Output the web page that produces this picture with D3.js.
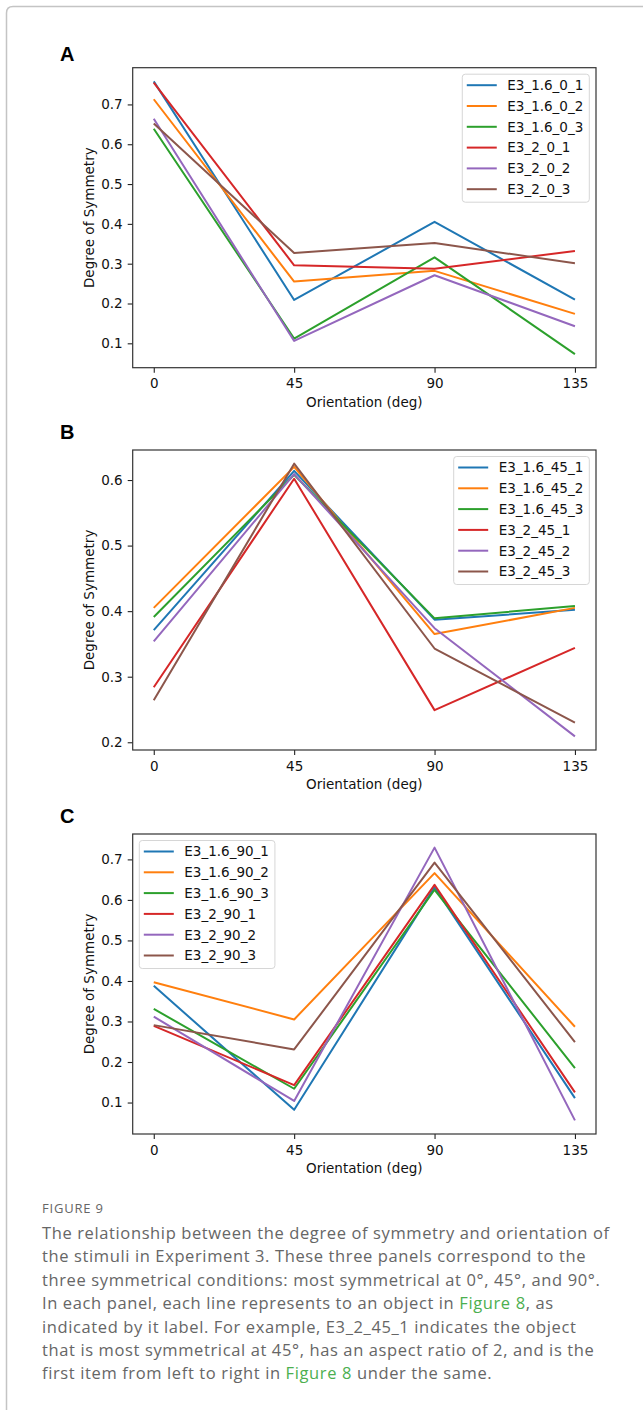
<!DOCTYPE html>
<meta charset="utf-8">
<style>
  body { margin: 0; background: #fff; }
  .tick text, .lab { font-family: "DejaVu Sans", sans-serif; font-size: 13.5px; fill: #111; }
  .cap { font-family: "Open Sans", Lato, sans-serif; fill: #666; }
</style>
<script src="https://d3js.org/d3.v7.min.js"></script>
<body>
<div id="chart"></div>
<script>

var orientations = [0, 45, 90, 135];
var colors = ["#1f77b4", "#ff7f0e", "#2ca02c", "#d62728", "#9467bd", "#8c564b"];

// panel A, most symmetrical at 0
var namesA = ["E3_1.6_0_1", "E3_1.6_0_2", "E3_1.6_0_3", "E3_2_0_1", "E3_2_0_2", "E3_2_0_3"];
var valuesA = [
  [0.758, 0.209, 0.405, 0.210],
  [0.713, 0.255, 0.282, 0.174],
  [0.639, 0.112, 0.316, 0.073],
  [0.755, 0.296, 0.287, 0.332],
  [0.664, 0.106, 0.271, 0.143],
  [0.652, 0.327, 0.352, 0.301]
];
var yTicksA = [0.1, 0.2, 0.3, 0.4, 0.5, 0.6, 0.7];

// panel B, most symmetrical at 45
var namesB = ["E3_1.6_45_1", "E3_1.6_45_2", "E3_1.6_45_3", "E3_2_45_1", "E3_2_45_2", "E3_2_45_3"];
var valuesB = [
  [0.371, 0.614, 0.387, 0.402],
  [0.405, 0.620, 0.365, 0.405],
  [0.391, 0.608, 0.389, 0.408],
  [0.284, 0.602, 0.249, 0.344],
  [0.354, 0.609, 0.374, 0.209],
  [0.264, 0.625, 0.343, 0.230]
];
var yTicksB = [0.2, 0.3, 0.4, 0.5, 0.6];

// panel C, most symmetrical at 90
var namesC = ["E3_1.6_90_1", "E3_1.6_90_2", "E3_1.6_90_3", "E3_2_90_1", "E3_2_90_2", "E3_2_90_3"];
var valuesC = [
  [0.388, 0.082, 0.631, 0.111],
  [0.397, 0.305, 0.666, 0.287],
  [0.331, 0.134, 0.625, 0.185],
  [0.289, 0.143, 0.637, 0.125],
  [0.312, 0.104, 0.729, 0.056],
  [0.291, 0.231, 0.692, 0.249]
];
var yTicksC = [0.1, 0.2, 0.3, 0.4, 0.5, 0.6, 0.7];

var captionLines = [
  ["The relationship between the degree of symmetry and orientation of"],
  ["the stimuli in Experiment 3. These three panels correspond to the"],
  ["three symmetrical conditions: most symmetrical at 0°, 45°, and 90°."],
  ["In each panel, each line represents to an object in ", "Figure 8", ", as"],
  ["indicated by it label. For example, E3_2_45_1 indicates the object"],
  ["that is most symmetrical at 45°, has an aspect ratio of 2, and is the"],
  ["first item from left to right in ", "Figure 8", " under the same."]
];

var width = 643, height = 1410;
var svg = d3.select("#chart").append("svg")
    .attr("width", width)
    .attr("height", height);

// page frame
svg.append("path")
    .attr("d", "M6.5," + height + " V13 Q6.5,6.5 13,6.5 H" + width)
    .attr("fill", "none")
    .attr("stroke", "#c4c4c4")
    .attr("stroke-width", 1.5);

var axLeft = 132.7, axRight = 596, axH = 300;

function panel(letter, top, labelY, names, values, yTicks, legendLeft) {
  var g = svg.append("g").attr("transform", "translate(0," + top + ")");

  var xe = d3.extent(orientations), xp = (xe[1] - xe[0]) * 0.05;
  var x = d3.scaleLinear().domain([xe[0] - xp, xe[1] + xp]).range([axLeft, axRight]);
  var ye = d3.extent(d3.merge(values)), yp = (ye[1] - ye[0]) * 0.05;
  var y = d3.scaleLinear().domain([ye[0] - yp, ye[1] + yp]).range([axH, 0]);

  svg.append("text")
      .attr("x", 60).attr("y", labelY)
      .attr("font-family", "'Liberation Sans', Arial, sans-serif")
      .attr("font-weight", "bold").attr("font-size", 20)
      .text(letter);

  var line = d3.line()
      .x(function(d, i) { return x(orientations[i]); })
      .y(function(d) { return y(d); });

  g.selectAll(".series").data(values).enter().append("path")
      .attr("d", line)
      .attr("fill", "none")
      .attr("stroke", function(d, i) { return colors[i]; })
      .attr("stroke-width", 2)
      .attr("stroke-linejoin", "round");

  var xa = g.append("g").attr("transform", "translate(0," + axH + ")")
      .call(d3.axisBottom(x).tickValues(orientations).tickSize(5).tickPadding(6));
  var ya = g.append("g").attr("transform", "translate(" + axLeft + ",0)")
      .call(d3.axisLeft(y).tickValues(yTicks).tickSize(5).tickPadding(5).tickFormat(d3.format(".1f")));
  [xa, ya].forEach(function(a) {
    a.select(".domain").remove();
    a.attr("font-family", null).attr("font-size", null);
    a.selectAll("line").attr("stroke", "#222").attr("stroke-width", 1.1);
  });

  g.append("rect")
      .attr("x", axLeft).attr("y", 0)
      .attr("width", axRight - axLeft).attr("height", axH)
      .attr("fill", "none").attr("stroke", "#333").attr("stroke-width", 1.2);

  g.append("text").attr("class", "lab")
      .attr("x", (axLeft + axRight) / 2).attr("y", axH + 39)
      .attr("text-anchor", "middle")
      .text("Orientation (deg)");
  g.append("text").attr("class", "lab")
      .attr("transform", "translate(94," + (axH / 2) + ") rotate(-90)")
      .attr("text-anchor", "middle")
      .text("Degree of Symmetry");

  // legend
  var lg = g.append("g");
  var box = lg.append("rect")
      .attr("fill", "#fff").attr("fill-opacity", 0.85)
      .attr("stroke", "#d6d6d6").attr("stroke-width", 1)
      .attr("rx", 3);
  var rows = lg.selectAll(".row").data(names).enter().append("g")
      .attr("transform", function(d, i) { return "translate(0," + (11 + i * 20.8) + ")"; });
  rows.append("line")
      .attr("x1", 4.5).attr("x2", 34.5)
      .attr("stroke", function(d, i) { return colors[i]; })
      .attr("stroke-width", 2);
  rows.append("text").attr("class", "lab")
      .attr("x", 45).attr("dy", "0.36em")
      .text(function(d) { return d; });
  var tw = d3.max(rows.selectAll("text").nodes(), function(n) { return n.getComputedTextLength(); });
  var bw = 45 + tw + 6, bh = 11 + (names.length - 1) * 20.8 + 13;
  box.attr("width", bw).attr("height", bh);
  var lx = legendLeft ? axLeft + 6.6 : axRight - 6.7 - bw;
  lg.attr("transform", "translate(" + lx + ",6.5)");
}

panel("A", 67.7, 61, namesA, valuesA, yTicksA, false);
panel("B", 450, 439.3, namesB, valuesB, yTicksB, false);
panel("C", 834, 822.7, namesC, valuesC, yTicksC, true);

// caption
svg.append("text").attr("class", "cap")
    .attr("x", 42).attr("y", 1213.3)
    .attr("font-size", 13).attr("fill", "#777")
    .attr("letter-spacing", "0.8px")
    .text("FIGURE 9");

var cap = svg.append("text").attr("class", "cap")
    .attr("font-size", 16.5)
    .attr("letter-spacing", "0.62px");
captionLines.forEach(function(parts, i) {
  var t = cap.append("tspan").attr("x", 42).attr("y", 1239 + i * 23.4);
  parts.forEach(function(p) {
    t.append("tspan")
        .attr("fill", p === "Figure 8" ? "#4caf50" : null)
        .text(p);
  });
});

</script>
</body>
